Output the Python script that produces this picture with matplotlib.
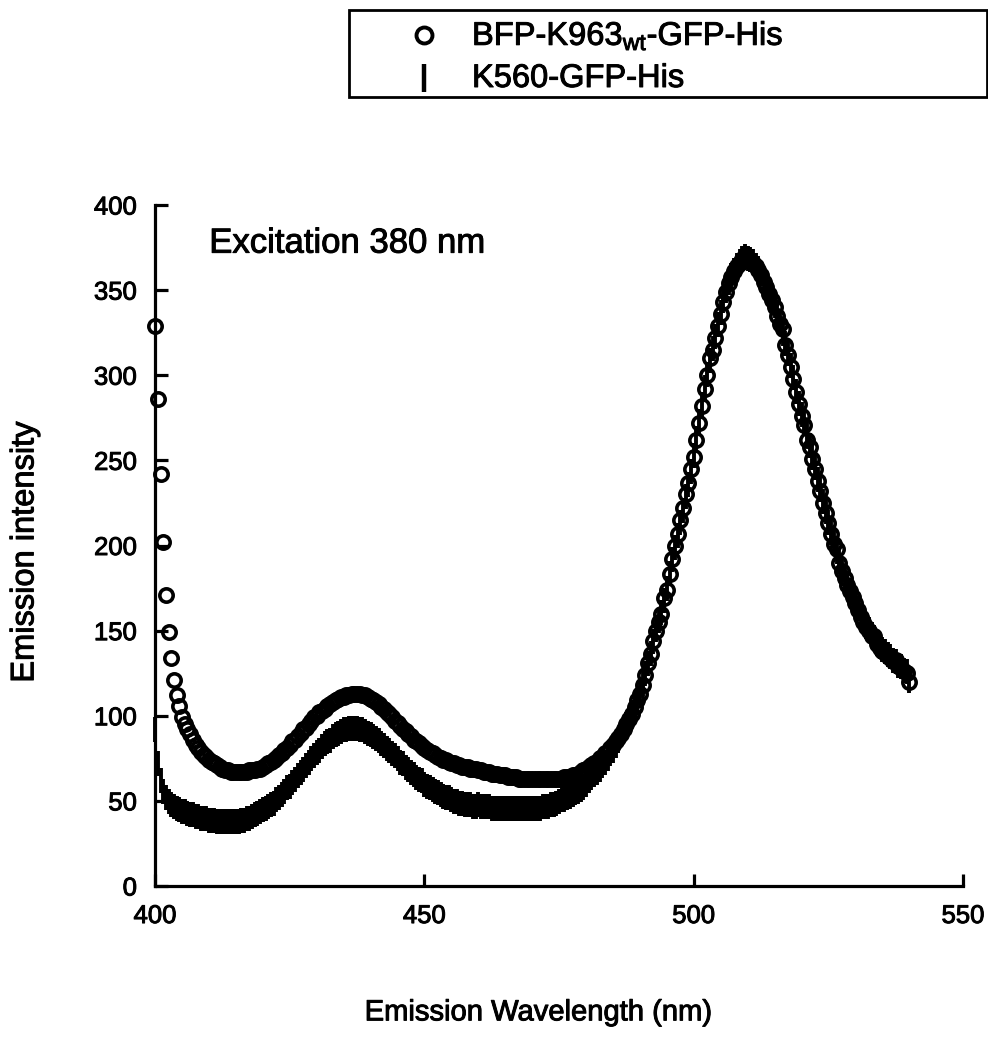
import numpy as np
import matplotlib
matplotlib.use("Agg")
import matplotlib.pyplot as plt
import matplotlib.patheffects as pe
from matplotlib.lines import Line2D
from matplotlib.patches import Rectangle

plt.rcParams['font.family'] = ['Liberation Sans', 'DejaVu Sans']
plt.rcParams['mathtext.default'] = 'regular'

# emission wavelength grid (nm), 0.5 nm steps from 400 to 540
wavelength = np.arange(400, 540.5, 0.5)

# BFP-K963wt-GFP-His (10 nm per row)
bfp_k963 = [
    329, 286, 242, 202, 171, 149, 134, 121, 112, 106, 99, 95, 92, 89, 86, 83, 81, 79, 77, 76,
    74, 73, 72, 71, 70, 69, 68, 68, 67, 67, 67, 67, 67, 67, 67, 68, 68, 68, 69, 69,
    70, 71, 72, 73, 74, 75, 77, 78, 80, 81, 83, 85, 86, 88, 90, 92, 93, 95, 97, 99,
    100, 102, 103, 104, 106, 107, 108, 109, 110, 111, 111, 112, 112, 113, 113, 113, 113, 112, 112, 111,
    110, 109, 108, 107, 105, 104, 102, 101, 99, 97, 96, 94, 92, 91, 89, 88, 86, 85, 84, 82,
    81, 80, 79, 78, 77, 76, 75, 74, 74, 73, 72, 72, 71, 71, 70, 70, 70, 69, 69, 69,
    68, 68, 67, 67, 67, 66, 66, 66, 65, 65, 65, 64, 64, 64, 64, 63, 63, 63, 63, 63,
    63, 63, 63, 63, 63, 63, 63, 63, 63, 63, 63, 63, 64, 64, 64, 65, 65, 66, 67, 68,
    69, 70, 71, 72, 73, 75, 76, 78, 79, 81, 83, 85, 87, 89, 92, 95, 98, 101, 105, 109,
    113, 118, 124, 131, 136, 144, 150, 155, 160, 169, 174, 183, 192, 200, 207, 215, 222, 230, 237, 245,
    252, 262, 272, 282, 292, 300, 310, 315, 322, 329, 336, 343, 349, 354, 358, 361, 364, 366, 368, 369,
    368, 367, 366, 364, 362, 359, 355, 352, 348, 344, 340, 335, 330, 327, 318, 312, 305, 298, 290, 283,
    276, 271, 262, 258, 251, 245, 238, 232, 225, 219, 213, 207, 201, 198, 190, 185, 181, 177, 173, 170,
    166, 162, 158, 155, 152, 150, 147, 147, 142, 140, 138, 137, 135, 134, 132, 133, 129, 128, 126, 125,
    120,
]

# K560-GFP-His
k560 = [
    92, 72, 62, 56, 52, 50, 48, 47, 46, 45, 44, 44, 43, 42, 42, 41, 41, 40, 40, 40,
    39, 39, 39, 38, 38, 38, 38, 38, 38, 38, 38, 38, 39, 39, 40, 40, 41, 42, 43, 44,
    45, 46, 47, 48, 49, 51, 52, 54, 56, 58, 59, 61, 63, 65, 67, 69, 71, 73, 75, 77,
    79, 80, 82, 84, 85, 86, 88, 89, 90, 91, 92, 92, 93, 93, 93, 93, 92, 92, 91, 90,
    89, 88, 87, 86, 84, 83, 81, 80, 78, 77, 75, 73, 72, 70, 69, 67, 66, 64, 63, 62,
    60, 59, 58, 57, 56, 55, 54, 53, 52, 52, 51, 50, 50, 49, 49, 48, 48, 48, 47, 47,
    48, 47, 47, 47, 47, 46, 46, 46, 46, 46, 46, 46, 46, 46, 46, 46, 46, 46, 46, 46,
    46, 46, 46, 46, 47, 47, 47, 48, 48, 49, 50, 51, 51, 52, 53, 54, 55, 56, 57, 58,
    60, 62, 64, 66, 67, 69, 71, 73, 75, 78, 80, 83, 86, 89, 92, 95, 98, 101, 105, 109,
    114, 119, 125, 131, 137, 144, 151, 156, 161, 168, 175, 184, 192, 199, 206, 214, 221, 229, 236, 244,
    253, 263, 273, 283, 293, 301, 309, 316, 323, 330, 337, 344, 350, 355, 359, 362, 365, 367, 369, 370,
    369, 368, 367, 365, 363, 360, 356, 353, 349, 345, 341, 336, 331, 325, 319, 313, 306, 299, 291, 284,
    277, 272, 266, 259, 252, 246, 239, 233, 226, 220, 214, 208, 202, 197, 191, 186, 182, 178, 174, 171,
    167, 163, 159, 156, 153, 151, 148, 146, 143, 141, 139, 138, 136, 135, 133, 132, 130, 129, 127, 126,
    121,
]

labels = ['BFP-K963$_{wt}$-GFP-His', 'K560-GFP-His']

# slightly heavier strokes, like the scanned print
thick = [pe.withStroke(linewidth=0.7, foreground='black')]

fig = plt.figure(figsize=(9.88, 10.53), dpi=100)
ax = fig.add_axes([0.157, 0.1586, 0.8178, 0.6467])

ax.plot(wavelength, k560, linestyle='none', marker='|', markersize=18,
        markeredgewidth=2.8, color='black', clip_on=False, zorder=2)
ax.plot(wavelength, bfp_k963, linestyle='none', marker='o', markersize=9.6,
        markeredgewidth=2.6, markerfacecolor='none', markeredgecolor='black',
        clip_on=False, zorder=3)

ax.set_xlim(400, 550)
ax.set_ylim(0, 400)
ax.set_xticks([400, 450, 500, 550])
ax.set_yticks(np.arange(0, 401, 50))
for side in ['top', 'right']:
    ax.spines[side].set_visible(False)
for side in ['left', 'bottom']:
    ax.spines[side].set_linewidth(2.3)
ax.tick_params(direction='in', length=9, width=2.3, labelsize=18.5, pad=13)
for lab in ax.get_xticklabels() + ax.get_yticklabels():
    lab.set_path_effects(thick)

ax.set_xlabel('Emission Wavelength (nm)', fontsize=21, path_effects=thick)
ax.xaxis.set_label_coords(0.474, -0.165)
ax.set_ylabel('Emission intensity', fontsize=23.5, path_effects=thick)
ax.yaxis.set_label_coords(-0.142, 0.49)

ax.text(0.067, 0.944, 'Excitation 380 nm', transform=ax.transAxes,
        fontsize=25, va='center', ha='left', path_effects=thick)

# legend box at the top, drawn in figure pixels converted to fractions
W, H = 988.0, 1053.0
fig.add_artist(Rectangle((349 / W, 1 - 97 / H), 638 / W, 87 / H,
                         transform=fig.transFigure, fill=False,
                         edgecolor='black', linewidth=2.0))
fig.add_artist(Line2D([424 / W], [1 - 35 / H], transform=fig.transFigure,
                      linestyle='none', marker='o', markersize=11.5,
                      markeredgewidth=2.8, markerfacecolor='none',
                      markeredgecolor='black'))
fig.add_artist(Line2D([424 / W], [1 - 78 / H], transform=fig.transFigure,
                      linestyle='none', marker='|', markersize=20,
                      markeredgewidth=3.2, color='black'))
fig.text(472 / W, 1 - 45 / H, labels[0], fontsize=23.5, ha='left',
         va='baseline', path_effects=thick)
fig.text(472 / W, 1 - 87 / H, labels[1], fontsize=23.5, ha='left',
         va='baseline', path_effects=thick)

fig.savefig('out.png', dpi=100, facecolor='white')
